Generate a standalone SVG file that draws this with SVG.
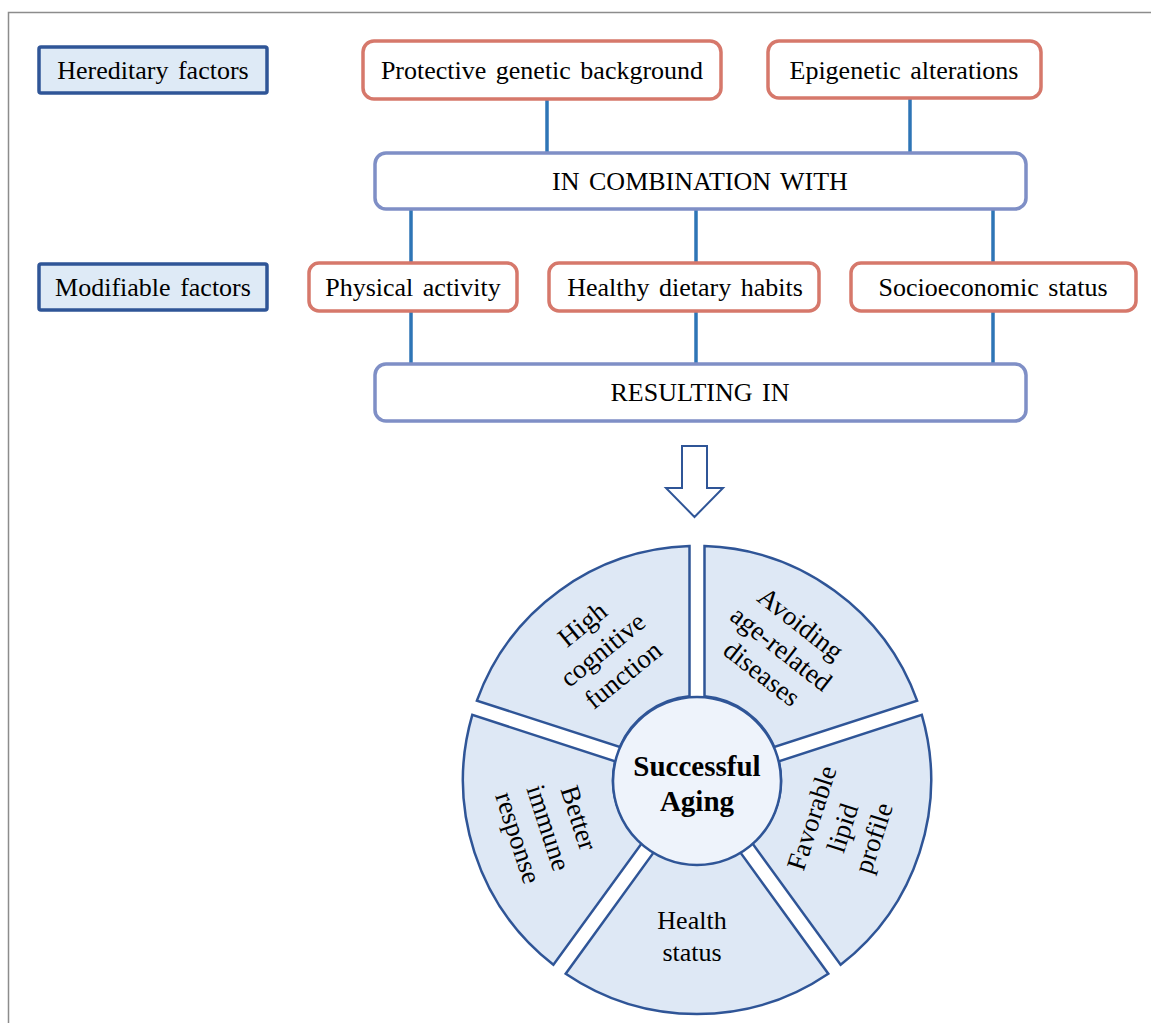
<svg xmlns="http://www.w3.org/2000/svg" width="1151" height="1023" viewBox="0 0 1151 1023">
<style>
text{font-family:"Liberation Serif","Times New Roman",serif;fill:#000}
.lbl{font-size:26px;text-anchor:middle;word-spacing:3px}
.cat rect{fill:#DEEAF6;stroke:#2F5597;stroke-width:3.5}
.fac rect{fill:#fff;stroke:#D6786B;stroke-width:3.5}
.mid rect{fill:#fff;stroke:#7F8FC6;stroke-width:3.5}
.conn line{stroke:#2E75B6;stroke-width:3.5}
.seg path{fill:#DEE8F5;stroke:#2F5597;stroke-width:2.5}
.st{font-size:27px;text-anchor:middle}
.sh{font-size:26px;text-anchor:middle}
</style>
<path d="M8.5 1023 V12.5 H1151" fill="none" stroke="#8c8c8c" stroke-width="1.5"/>

<g id="connectors" class="conn">
<line x1="547" y1="99" x2="547" y2="153"/>
<line x1="910" y1="98" x2="910" y2="153"/>
<line x1="411" y1="209" x2="411" y2="263"/>
<line x1="696" y1="209" x2="696" y2="263"/>
<line x1="993" y1="209" x2="993" y2="263"/>
<line x1="411" y1="311" x2="411" y2="364"/>
<line x1="696" y1="311" x2="696" y2="364"/>
<line x1="993" y1="311" x2="993" y2="364"/>
</g>

<g id="hereditary" class="cat"><rect x="39" y="47" width="228" height="46" rx="2"/><text class="lbl" x="153" y="79">Hereditary  factors</text></g>
<g id="modifiable" class="cat"><rect x="39" y="264" width="228" height="46" rx="2"/><text class="lbl" x="153" y="296">Modifiable  factors</text></g>

<g id="protective" class="fac"><rect x="363" y="41" width="358" height="58" rx="11"/><text class="lbl" x="542" y="79">Protective  genetic  background</text></g>
<g id="epigenetic" class="fac"><rect x="768" y="41" width="273" height="57" rx="11"/><text class="lbl" x="904" y="79">Epigenetic  alterations</text></g>

<g id="combination" class="mid"><rect x="375" y="153" width="651" height="56" rx="11"/><text class="lbl" x="700" y="190">IN COMBINATION WITH</text></g>

<g id="physical" class="fac"><rect x="309" y="263" width="208" height="48" rx="10"/><text class="lbl" x="413" y="296">Physical  activity</text></g>
<g id="dietary" class="fac"><rect x="549" y="263" width="270" height="48" rx="10"/><text class="lbl" x="685" y="296">Healthy dietary habits</text></g>
<g id="socioeconomic" class="fac"><rect x="851" y="263" width="285" height="48" rx="10"/><text class="lbl" x="993" y="296">Socioeconomic  status</text></g>

<g id="resulting" class="mid"><rect x="375" y="364" width="651" height="57" rx="11"/><text class="lbl" x="700" y="401">RESULTING IN</text></g>

<g id="arrow"><polygon points="682,446 707,446 707,488 723,488 694.5,517 666,488 682,488" fill="#fff" stroke="#2F5597" stroke-width="2"/></g>

<g id="wheel" class="seg">
<g id="seg-avoiding"><path d="M704.5 546.1 A234 234 0 0 1 917.1 700.6 L774.3 747 A84 84 0 0 0 704.5 696.3 Z"/>
<g transform="translate(781 649) rotate(38)"><text class="st" y="-23">Avoiding</text><text class="st" y="8.5">age-related</text><text class="st" y="40">diseases</text></g></g>
<g id="seg-lipid"><path d="M921.8 714.9 A234 234 0 0 1 840.6 964.8 L752.3 843.3 A84 84 0 0 0 778.9 761.3 Z"/>
<g transform="translate(843 828) rotate(-72)"><text class="st" y="-24">Favorable</text><text class="st" y="8.5">lipid</text><text class="st" y="41">profile</text></g></g>
<g id="seg-health"><path d="M828.3 973.7 A234 234 0 0 1 565.7 973.7 L653.9 852.1 A84 84 0 0 0 740.1 852.1 Z"/>
<text class="sh" x="692" y="929">Health</text><text class="sh" x="692" y="961">status</text></g>
<g id="seg-immune"><path d="M553.4 964.8 A234 234 0 0 1 472.3 714.9 L615.1 761.3 A84 84 0 0 0 641.8 843.3 Z"/>
<g transform="translate(548 828) rotate(72)"><text class="st" y="-23.5">Better</text><text class="st" y="8.5">immune</text><text class="st" y="40.5">response</text></g></g>
<g id="seg-cognitive"><path d="M476.9 700.6 A234 234 0 0 1 689.5 546.1 L689.5 696.3 A84 84 0 0 0 619.8 747 Z"/>
<g transform="translate(603 650) rotate(-39)"><text class="st" y="-24">High</text><text class="st" y="8.5">cognitive</text><text class="st" y="41">function</text></g></g>
</g>

<g id="center"><circle cx="697" cy="781" r="84" fill="#EEF3FB" stroke="#2F5597" stroke-width="2.5"/>
<text x="697" y="776" style="font-size:29px;font-weight:bold;text-anchor:middle">Successful</text>
<text x="697" y="811" style="font-size:29px;font-weight:bold;text-anchor:middle">Aging</text></g>
</svg>
